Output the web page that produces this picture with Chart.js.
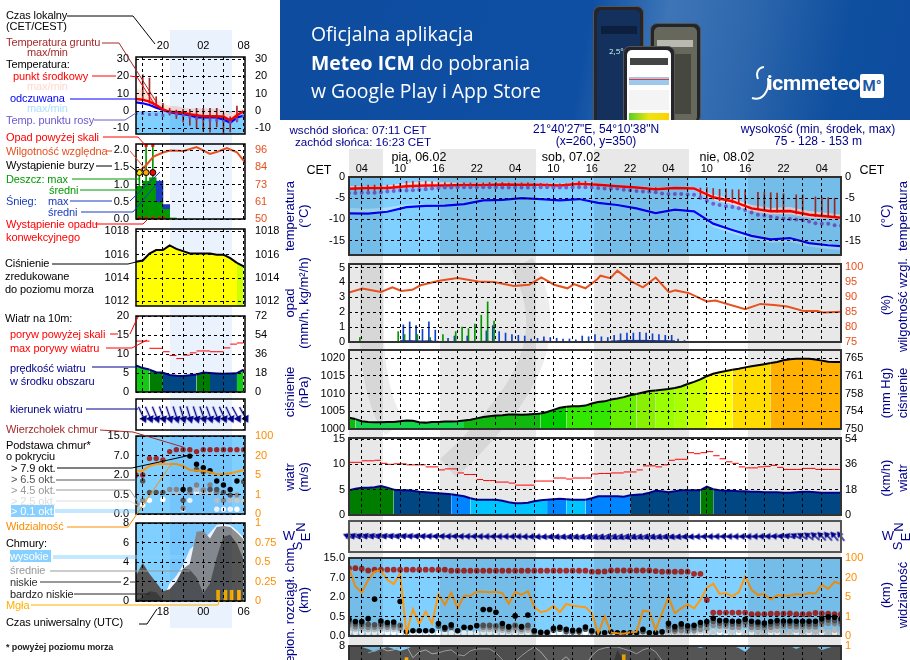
<!DOCTYPE html>
<html lang="pl">
<head>
<meta charset="utf-8">
<title>Meteogram ICM</title>
<script src="https://cdn.jsdelivr.net/npm/chart.js@4"></script>
<style>
html,body{margin:0;padding:0;width:910px;height:660px;overflow:hidden;background:#fff;font-family:"Liberation Sans",Arial,sans-serif;font-size:12px}
canvas{position:absolute;z-index:2}
canvas.tinted{mix-blend-mode:multiply}
.band{position:absolute;z-index:0}
.t{position:absolute;white-space:nowrap;transform:translateY(-50%);z-index:4;font-size:11px;letter-spacing:-.1px}
.c{position:absolute;white-space:nowrap;transform:translate(-50%,-50%);z-index:4}
.r{position:absolute;white-space:nowrap;transform:translate(-50%,-50%) rotate(-90deg);z-index:4;color:#00008b;font-size:13px}
#leaders{position:absolute;left:0;top:0;z-index:3}
#mark{position:absolute;left:0;top:0;z-index:1;mix-blend-mode:multiply}
#banner{position:absolute;left:280px;top:0;width:630px;height:120px;overflow:hidden;z-index:5;color:#fff;
  background:linear-gradient(100deg,#0d4c9f 0%,#0f4fa3 48%,#3d75b7 60%,#2f68ad 72%,#0f4f9f 88%,#0d4c9f 100%)}
#banner .ln{position:absolute;left:31px;font:19.4px "Open Sans",sans-serif;white-space:nowrap}
.phone{position:absolute;background:#23252b;border-radius:7px;border:1px solid #555;box-sizing:border-box;overflow:hidden}
.phone i{position:absolute;display:block}
</style>
</head>
<body>
<div id="stage"></div>
<svg id="mark" width="910" height="660" fill="none" stroke="#ededed" stroke-width="24"><path d="M372 264V340Q375 400 395 428"/><path d="M522 264Q560 330 510 400Q480 440 448 468"/></svg>
<svg id="leaders" width="910" height="660" fill="none" stroke-width="1"></svg>
<div id="banner">
  <div class="ln" style="top:20px">Oficjalna aplikacja</div>
  <div class="ln" style="top:49px"><b>Meteo ICM</b> do pobrania</div>
  <div class="ln" style="top:77px">w Google Play i App Store</div>
  <div class="phone" style="left:313px;top:6px;width:51px;height:125px"><i style="left:3px;top:3px;right:3px;bottom:0;background:#14315e;border-radius:5px"></i><i style="left:7px;top:19px;width:36px;height:8px;background:#0c1f3f"></i><i style="left:15px;top:38px;font:8px 'Open Sans';font-style:normal;color:#cfe">2,5°</i></div>
  <div class="phone" style="left:370px;top:23px;width:51px;height:100px"><i style="left:3px;top:3px;right:3px;bottom:0;background:#67685c;border-radius:5px"></i><i style="left:24px;top:30px;width:16px;height:60px;background:#46473f"></i><i style="left:6px;top:16px;width:36px;height:7px;background:#b9b9b2"></i></div>
  <div class="phone" style="left:343px;top:46px;width:52px;height:80px"><i style="left:3px;top:3px;right:3px;bottom:0;background:#fff;border-radius:5px"></i><i style="left:6px;top:11px;width:38px;height:7px;background:#444"></i><i style="left:5px;top:30px;width:40px;height:8px;background:#9cc9ec"></i><i style="left:5px;top:32px;width:40px;height:1px;background:#e33"></i><i style="left:5px;top:43px;width:40px;height:20px;background:#f4f4f4"></i><i style="left:5px;top:66px;width:40px;height:8px;background:linear-gradient(90deg,#55d025,#eee510,#ffd000)"></i></div>
  <svg style="position:absolute;left:470px;top:64px" width="30" height="40" fill="none" stroke="#fff" stroke-width="2"><path d="M14 3C7 4 6 10 8 15"/><path d="M18 14C20 28 12 37 2 34"/></svg>
  <div style="position:absolute;left:487px;top:71px;font:bold 21px Roboto,sans-serif;letter-spacing:-.2px">icmmeteo</div>
  <div style="position:absolute;left:580px;top:74px;width:24px;height:24px;background:#fff;border-radius:2px;color:#1d57a5;font:bold 15px/24px Roboto,sans-serif;text-align:center">M°</div>
</div>
<script>
// --- Hours on the two time axes ---
const mainHours = Array.from({length: 78}, (_, i) => i);
const leftHours = Array.from({length: 17}, (_, i) => 16 + i);
const mainGridHours = [2,5,8,11,14,17,20,23,26,29,32,35,38,41,44,47,50,53,56,59,62,65,68,71,74,77];
const mainHourLabels = ['04','10','16','22','04','10','16','22','04','10','16','22','04'];
const leftGridHours = [17,20,23,26,29,32];
const leftTopLabels = ['20','02','08'];
const leftBottomLabels = ['18','00','06'];

// --- Main column: temperature ---
const temp3hHours = [0,3,6,9,12,15,18,21,24,27,30,33,36,39,42,45,48,51,54,57,60,63,66,69,72,75,77];
const tempMid = [-2.8,-2.6,-2.6,-2.2,-2,-2,-1.9,-1.9,-1.75,-1.8,-1.8,-2,-1.6,-1.8,-2.2,-2.5,-2.9,-2.6,-2.7,-4.8,-5.7,-7.4,-8.1,-8,-8.9,-9.3,-9.6];
const tempMax = [-2.2,-2.2,-2,-1.4,-1,-1.2,-1.4,-1.4,-1.3,-1.4,-1.4,-1.6,-1.2,-1.5,-1.9,-2.2,-2.5,-2.3,-2.4,-4.2,-5.1,-6.6,-7.3,-7.1,-8,-8.5,-8.9];
const tempMin = [-3,-2.9,-2.9,-2.5,-2.3,-2.3,-2.2,-2.2,-2,-2,-2,-2.2,-1.8,-2,-2.4,-2.7,-3.1,-2.9,-3,-5.4,-6.4,-8.1,-8.8,-8.8,-9.6,-9.8,-10];
const feelMid = [-8.6,-8.65,-8.2,-7.1,-6.8,-6.75,-6.4,-5.5,-5.4,-5,-5.2,-5.5,-5.2,-6.1,-6.6,-7.4,-8.5,-7.7,-8.1,-11,-12.5,-13.9,-14.7,-14.4,-15.6,-16.1,-16.3];
const feelMax = [-7.3,-7.5,-7.2,-6.5,-6.4,-6.4,-6,-5.2,-5,-4.6,-4.8,-5.2,-4.9,-5.8,-6.3,-7.1,-8.1,-7.3,-7.7,-10.6,-12.1,-13.5,-14.4,-14.1,-15.2,-15.7,-15.9];
const feelMin = [-8.8,-8.9,-8.5,-7.4,-7,-7,-6.6,-5.7,-5.6,-5.2,-5.4,-5.7,-5.4,-6.3,-6.8,-7.6,-8.7,-8,-8.4,-11.8,-13.3,-14.7,-15.5,-15.3,-16.4,-17,-17.2];
const dewPoint = [-3.8,-3.8,-3.7,-3.7,-3.7,-3.6,-3.4,-3.3,-3.2,-3.2,-3.1,-3,-2.9,-2.7,-2.6,-2.5,-2.5,-2.4,-2.4,-2.4,-2.4,-2.4,-2.4,-2.4,-2.5,-2.5,-2.5,-2.5,-2.5,-2.4,-2.4,-2.4,-2.5,-2.5,-2.5,-2.4,-2.4,-2.4,-2.5,-2.6,-2.7,-2.7,-2.7,-3,-3.1,-3.3,-3.4,-3.5,-3.6,-3.9,-4,-4,-4,-4.1,-4.2,-4.9,-5.6,-6.3,-6.6,-6.9,-7.1,-7.4,-7.8,-8.4,-8.9,-9.1,-9.4,-9.7,-9.8,-9.9,-10,-10.2,-10.5,-10.9,-11,-11,-11.4,-11.5];
const groundMax = [null,-2,-2,-1.9,-1.9,-1.9,-1.9,-1.8,-1.5,-1,-1,-1,-1,-1.1,-1.2,-1.3,-1.4,-1.4,-1.4,-1.4,-1.4,-1.4,-1.3,-1.3,-1.3,-1.4,-1.4,-1.4,-1.4,-1.5,-1.5,-1.6,-1.6,-1.6,-1.6,-1.2,-1,-1,-1.2,null,null,null,null,null,null,null,null,null,-2.5,null,null,null,null,null,null,-2.6,-2.5,-2.7,-2.9,-2.8,-3,-3,-3,null,-3.6,-3.6,-3.7,-3.8,-3.9,null,-4.2,-4.2,null,-4.7,-4.8,-4.9,-5,null];
const groundMin = [null,-3.3,-3.3,-3.2,-3.2,-3.1,-3,-3,-2.8,-2.7,-2.6,-2.6,-2.6,-2.6,-2.5,-2.5,-2.5,-2.4,-2.4,-2.4,-2.4,-2.4,-2.4,-2.4,-2.4,-2.4,-2.4,-2.4,-2.4,-2.5,-2.5,-2.5,-2.5,-2.5,-2.5,-2.3,-2.2,-2.3,-2.4,null,null,null,null,null,null,null,null,null,-3.4,null,null,null,null,null,null,-5,-5.2,-5.2,-5.6,-5.8,-6.1,-6.3,-6.5,null,-7.7,-8,-8.2,-8.3,-8.4,null,-8.7,-8.9,null,-9.3,-9.4,-9.4,-9.6,null];

// --- Main column: precipitation and humidity ---
const rainHourCentres = mainHours.map(h => h + 0.5);
const rainMax = [null,.3,null,.03,.03,null,null,.7,.5,null,.5,null,.3,null,.5,null,.7,1,.9,1.2,1.8,2.7,1.4,null];
const snowMax = [null,null,null,null,null,null,null,null,1.15,1.35,1.1,.85,1.35,.8,null,.25,.4,null,.4,null,null,.75,1.1,.7,.6,.5,.45,.4,.2,.25,.35,.3,.25,.2,.2,.15,.4,.35,.5,.35,.3,.45,.55,.6,.6,.65,.6,.55,.5,.45,.45,.2,.1,.05,.03,.03,.03,.03,.03,null,null,.03,null,null,null,.03];
const snowMean = [null,null,null,null,null,null,null,null,.1,.1,.09,.08,.09,.06,.03,.03,.03,.03,.03,.03,.03,.03,.03,.03,.02,.02,.02,.03,.02,.04,.06,.04,.03,.02,.03,.02,.02,.03,.03,.04,.05,.08,.1,.12,.12,.12,.12,.11,.1,.1,.09,.02];
const rainMean = [null,null,null,null,null,null,null,.02,.02,null,.02,null,.02,null,.02,.03,.03,.04,.04,.05,.05,.06,.04];
const humidityHours = [0,2.1,5,6.8,8.2,9.9,11.2,14.1,17,20.2,22.7,25.8,28.2,30.1,32.1,34.2,35.2,37,38.9,39.35,40.9,42,44.05,46,48,50.05,51.1,53.2,56,57.35,62,64.4,66.5,68.6,71.2,73.3,74.3,77];
const humidity = [91.5,92.8,91.7,93.2,92,92.4,93.9,95.4,96.3,95.2,95,93.7,94.1,96.5,94.1,92.9,94.3,92.9,96,97.1,96.3,98.8,95.4,93.2,96.5,91.6,92.2,91.3,88.5,88.8,85.9,87.7,87.3,86.8,85.3,85.3,84.8,85.1];

// --- Main column: pressure, wind ---
const pressure = [1003.2,1002.8,1002.2,1002,1001.9,1001.9,1002,1002,1002.2,1002.4,1002.3,1001.9,1001.8,1002,1002,1002.1,1002.1,1002.2,1002.4,1002.6,1003,1003.4,1003.6,1003.8,1003.9,1004.1,1004.1,1004,1004.1,1004.2,1004.4,1004.8,1005.4,1006,1006.3,1006.4,1006.4,1006.6,1007.2,1007.6,1007.8,1008.3,1008.6,1009,1009.5,1009.9,1010.3,1010.7,1010.9,1011.1,1011.3,1011.6,1012,1012.7,1013.3,1014,1014.9,1015.6,1016,1016.4,1016.7,1017,1017.4,1017.7,1018,1018.3,1018.6,1018.9,1019.4,1019.7,1019.8,1019.8,1019.8,1019.6,1019.3,1019,1018.9,1018.9];
const windSpeed = [4.9,5.2,5.4,5.4,5.5,5.7,5.4,5,4.9,4.9,4.8,4.6,4.5,4.4,4.3,4.2,4.1,3.9,3.7,3.3,3,3,3,3,2.8,2.5,2.3,2.3,2.4,2.7,2.9,3,3.1,3.2,3.1,3,3,3,3.3,3.7,3.7,3.7,3.7,3.6,3.9,4,4.1,4.4,4.8,4.7,4.5,4.7,4.9,4.9,4.9,4.9,5.6,5.1,4.9,4.8,4.8,4.7,4.7,4.6,4.6,4.5,4.5,4.5,4.4,4.4,4.5,4.6,4.6,4.5,4.4,4.4,4.4,4.4];
const windGust = [10.4,10.4,10.7,10.7,10.8,10.2,10,10.1,10.1,9.9,9.9,9.9,9.5,9.5,8.9,9.1,9.1,8.3,8,8,7,6.8,6.8,6.5,6.5,6.3,5.9,5.9,5.9,6.7,6.7,6.7,7.3,7.3,7.1,7.3,7.3,7.3,8.1,8.2,8.2,8.3,8.3,8.5,8.5,8.9,9.7,9.7,9.5,9.9,10.8,11,11,12.3,12.1,12.3,12.5,11.7,11.1,10.5,10.2,9.5,9.3,9.3,9.5,9.6,9.8,9.4,9,9,9,9.2,9.2,9,9,9,9,9];
const windDirection = [112,112,110,110,108,108,106,106,105,104,103,102,100,100,98,98,96,96,95,94,92,92,90,90,90,90,88,88,86,84,82,80,78,76,75,74,72,72,70,70,68,68,68,68,70,70,70,70,72,72,74,76,78,80,82,84,86,88,90,90,90,90,90,90,90,92,94,96,100,108,116,122,128,132,135,138,140,142];

// --- Main column: cloud base, cloud top and visibility, in axis steps ---
const cloudTop = [3.48,3.48,3.45,3.36,3.4,3.4,3.4,3.4,3.4,3.4,3.4,3.4,3.4,3.4,3.4,3.4,3.35,3.35,3.35,3.35,3.35,3.35,3.35,3.35,3.35,3.35,3.35,3.35,3.35,3.35,3.35,3.35,3.35,3.35,3.35,3.35,3.35,3.35,3.3,3.3,3.31,3.36,3.36,3.36,3.36,3.36,3.36,3.36,3.33,3.3,3.3,3.3,3.3,3.3,3.19,3.19,1.85,1.2,1.2,1.2,1.2,1.2,1.2,1.12,1.12,1.12,1.14,1.14,1.14,1.16,1.12,1.12,1.12,1.18,1.16,1.14,1.12,1.12];
const base79 = [.86,.74,.74,.89,1.89,.77,.69,.72,1.77,.22,.27,.27,.27,.27,.64,.43,.57,.27,.45,.43,.53,1.36,1.36,1.22,.64,.48,1.03,.48,1.08,.27,.19,.19,.4,.45,.34,.29,.29,.46,.27,.17,.17,.22,.17,.17,.17,.17,.34,.17,.17,.21,.65,.48,.62,.52,.55,.69,.74,.91,.79,.79,.76,.76,.86,.76,.72,.67,.74,.79,.77,.77,.76,.76,.76,.76,.88,.98,.96,.88];
const base65 = [.72,.62,.62,.6,.58,.62,.58,.58,.55,null,null,null,null,null,.5,.35,.45,null,null,null,null,.55,.55,.52,.5,.45,.55,.45,.55,.25,.15,.15,.3,.35,.22,.2,.2,.35,.2,null,null,null,null,null,null,null,.22,null,null,null,.5,.35,.48,.4,.42,.55,.6,.75,.65,.65,.62,.62,.72,.62,.6,.55,.6,.65,.65,.65,.62,.62,.62,.62,.75,.82,.8,.75];
const base45 = [.55,.48,.48,.45,.45,.48,.45,.45,.4,null,null,null,null,null,null,null,null,null,null,null,null,.45,.45,.42,.4,.35,.42,.35,.42,.18,null,null,null,null,null,null,null,null,null,null,null,null,null,null,null,null,null,null,null,null,.3,.25,.3,.25,.28,.35,.4,.55,.5,.5,.45,.45,.55,.45,.45,.42,.45,.5,.5,.5,.48,.48,.48,.48,.6,.65,.65,.6];
const base25 = [.4,.36,.36,.33,.33,.36,.33,.33,.3,null,null,null,null,null,null,null,null,null,null,null,null,.33,.33,.3,.3,.25,.3,.25,.3,.12,null,null,null,null,null,null,null,null,null,null,null,null,null,null,null,null,null,null,null,null,.2,.2,.2,.2,.2,.25,.22,.22,.3,.25,.2,.3,.2,.32,.2,.18,.3,.3,.18,.2,.3,.2,.3,.2,.3,.2,.3,.2];
const base01 = [.2,.18,.18,.18,.18,.18,.18,.18,.16,.14,.14,.14,.14,.14,.14,.14,.14,.14,.14,.14,.14,.18,.18,.18,.16,.14,.16,.14,.16,.1,.1,.1,.12,.14,.12,.12,.12,.14,.12,.1,.1,.1,.1,.1,.1,.1,.12,.1,.1,.1,.14,.12,.14,.12,.12,.14,.16,.2,.18,.18,.16,.16,.18,.16,.14,.14,.16,.14,.14,.14,.14,.14,.16,.14,.16,.18,.16,.14];
const visibility = [3.48,2.54,2.23,2.88,3.31,3.36,2.88,2.66,3.19,.14,1.37,.62,1.25,.65,2.15,1.6,2.23,1.42,2.06,2.06,2.27,2.27,2.25,2.27,2.2,1.65,2.27,2.11,2.3,1.48,1.22,1.3,1.55,1.22,1.65,1.55,1.51,1.48,1.17,.14,1,.17,.14,.12,.19,.22,1.3,1.25,.31,1.17,1.99,1.17,1.42,1.63,1.42,1.85,2.47,2.68,2.16,2.2,2.03,2.25,3.05,2.37,2.11,2.15,1.87,2.09,2.08,2.06,2.15,2.11,2.2,2.18,2.63,2.42,2.78,2.66];

// --- Main column: clouds, only the top of the panel fits in the window ---
const cloudLowMain = [8,8,7.9,7.7,7.4,7.7,7.9,7.7,7.5,7.7,8,8,8,8,8,8,8,8,8,8,8,8,8,8,8,8,8,8,8,8,8,8,8,8,8,8,8,8,8,8,8,8,8,8,8,8,8,8,8,8,8,8,8,8,8,7.8,8,8,8,8,8,7.8,7.4,8,8,8,8,8,8,8,7.7,8,8,8,7.6,7.8,8,8];
const cloudHighLine = [null,null,null,7.3,7.5,7.8,7.5,7.6,7.9,8,6.8,7.4,7.6,7.2,7.3,7.5,7.6,7.1,7,7.5,7.7,7.7,7.7,7.3,6.6,6,6.4,7,7.5,7.9,7.4,6.6,5.8,6.4,6.9,6.2,5.6,6,7,7.6,7.8,7.9,7.9,7.7,7.5,7.2,7.6,7.8,7.4,6.5,5.5];
const cloudVeryLowMain = [0,0,0,0,0,0,0,0,0,0,0,0,0,0,0,0,0,0,0,0,0,0,0,0,0,0,0,0,0,0,0,0,0,0,0,0,0,0,0,4,6.5,5.5,7.6,6.5,5,3,4,6,6.8,6,4,0];
const fogHours = [9,43];
const fogMain = [6.8,7.1];

// --- Left column ---
const leftTemp = [7,6.5,5.5,3.5,1,-.4,-.6,-1,-1.8,-2.4,-3,-3,-2.9,-3.3,-5.3,-2.4,0];
const leftTempMax = [13,12,10,7.3,4.4,2.9,2.9,2,1.5,1.5,1.5,1.5,1.5,.6,-1,.4,1.2];
const leftFeel = [5,4.5,3.5,2,.6,-.6,-1.4,-1.8,-2.4,-3.7,-3.7,-3.7,-3.7,-4.9,-6.7,-3.7,-2.7];
const leftDew = [-1.4,-1.4,-2,-2,-2.5,-1,-1.8,-2.4,-3.3,-4.3,-4.7,-5,-5.3,-5.6,-6.5,-4.8,-2.9];
const leftGroundHours = [17,18,19,20,21,22,23,24,25,26,27,28,29,30,31];
const leftGroundMax = [21,19,8.3,4.5,1.6,.6,1,1,1.6,1.6,1.6,1.6,-1.4,-3.3,2.9];
const leftGroundMin = [6.4,4.5,2.5,.6,-2.3,-4.3,-6.2,-8.2,-9.7,-11.7,-12.2,-9.1,-13,-12,-6.2];
const leftRainMean = [.95,1.1,1.2,.5,.3,.03];
const leftRainHours = [16.5,17.5,18.5,19.5,20.5,21.5];
const leftSnowLow = [null,null,null,.5,.3,null];
const leftSnowHigh = [null,null,null,1.1,.42,null];
const leftRainMaxHours = [16.5,17.5,18.5];
const leftRainMax = [1.45,2.14,2.14];
const leftOverScaleHours = [17.5,18.5];
const leftOverScale = [2.14,2.14];
const stormHours = [16.5,17.5,18.5];
const stormLevel = [1.35,1.35,1.35];
const convectiveHours = [16.5,17.5,18.5,19.5,20.1];
const convectiveLevel = [.02,.02,.02,.02,.02];
const leftHumidityHours = [16.4,17.5,18.6,20.1,21.1,23.1,25,27,28.2,29.5,31,32.2];
const leftHumidity = [81.4,85.9,91.7,94.6,95.8,95.5,98,93.5,95.1,97.4,94.6,87.8];
const leftPressure = [1015.4,1015.5,1016.1,1016.4,1016.4,1016.8,1016.5,1016.3,1016.1,1016.1,1016.1,1016.1,1016,1016,1015.7,1015.3,1015];
const leftWind = [7,6.3,5.9,5.2,5.1,4.5,4.3,4.2,4.4,4.6,5.1,5,4.9,4.8,4.9,4.95,5.9];
const leftGustHours = [16.5,17.5,18.5,19.5,20.5,21.5,22.5,23.5,24.5,25.5,26.5,27.5,28.5,29.5,30.5,31.5];
const leftGust = [13.4,13.4,11.5,11.5,10.6,9.6,8.8,9.7,10.3,10.8,10.8,10.6,10.6,11.6,12.6,12.9];
const leftDirHours = [16.9,17.9,18.9,19.9,20.9,21.9,22.9,23.9,24.9,25.9,26.9,27.9,28.9,29.9,30.9,32];
const leftDirection = [335,336,338,340,341,342,343,343,342,341,340,338,336,335,332,331];
const leftCloudTop = [2,2,2.85,2.85,2.77,3.2,3.3,3.3,3.3,3.2,3.3,3.3,3.3,3.3,3.3,3.3,3.3];
const leftBase79 = [null,null,null,null,null,null,null,1.26,2.97,2.55,2.38,2.22,1.69,1.49,1.26,1.69,null];
const leftBase65 = [null,1.69,1.11,1.11,1.11,null,null,.7,1.26,2.29,2.17,1.26,1.26,1.11,.97,null,1.66];
const leftBase45 = [.46,.7,null,null,null,1.26,1.26,.3,1.11,1.49,1.23,1.49,1.11,.7,null,.97,null];
const leftBase25 = [.41,null,null,null,null,1.23,1.11,null,1.11,1.26,1.11,1.11,.7,null,.7,.7,.7];
const leftBase01 = [null,.46,.7,null,.75,null,null,.24,.7,1.11,1.11,1.11,.24,.24,.24,.24,null];
const leftVisibility = [2.22,2.22,2.46,2.56,2.56,2.56,2.56,2.46,2.26,2.22,2.22,2.14,2.04,2.05,2.09,2.17,2.26];
const leftCloudHigh = [0,0,0,0,.1,1.8,2.6,3.7,5.3,5.9,6.3,7,7.8,7.9,7.8,7.2,6.5];
const leftCloudMid = [0,0,0,0,0,.5,1.5,3.3,3.8,7.1,7.2,6.4,7.6,7.7,7.6,7,6.3];
const leftCloudLow = [2.6,3.9,2.8,1.9,1,1.2,2,3.3,3.2,2.4,.8,1.8,4.5,6.6,6.8,5.9,4.2];
const leftCloudVeryLow = [.1,.4,1,.9,.1,0,0,0,0,0,0,0,0,0,0,0,0];
const leftFogHours = [28.2,29.3,30.2,31.3];
const leftFog = [1.1,1.1,1.1,1.1];

// --- Axis tick positions and labels ---
const mainTempTicks = [-15,-10,-5,0];
const rainTicks = [0,1,2,3,4,5];
const humidityTicks = [75,80,85,90,95,100];
const pressureTicks = [1000,1005,1010,1015,1020];
const mmHgLabels = ['750','754','758','761','765'];
const windTicks = [0,5,10,15];
const windKmhLabels = ['0','18','36','54'];
const baseSteps = [0,1,2,3,4];
const baseLabels = ['0.0','0.5','2.0','7.0','15.0'];
const visLabels = ['0','1','5','20','100'];
const cloudTicks = [0,2,4,6,8];
const fogLabels = ['0','0.25','0.5','0.75','1'];
const leftTempTicks = [-10,0,10,20,30];
const leftRainTicks = [0,.5,1,1.5,2];
const leftRainLabels = ['0.0','0.5','1.0','1.5','2.0'];
const leftRhLabels = ['50','61','73','84','96'];
const leftPressureTicks = [1012,1014,1016,1018];
const leftWindTicks = [0,5,10,15,20];
const leftWindKmh = ['0','18','36','54','72'];

// --- Colours ---
const SKY = '#80d0ff', NAVY = '#00008b', RH = '#e8501e', VIS = '#ff9a10', BLACK = '#000';
const bandColor = (v, steps, last) => { for (const [lim, c] of steps) if (v < lim) return c; return last; };
const PRESSURE_STEPS = [[1002.6,'#14d44a'],[1004.5,'#10b810'],[1006.4,'#00cc00'],[1008.5,'#33e800'],[1010,'#66f000'],[1011,'#88f000'],[1011.7,'#99ff00'],[1013,'#aaff00'],[1015.1,'#ccff00'],[1016.85,'#ffff00'],[1018.8,'#ffdc00']];
const WIND_STEPS = [[3.05,'#00c4ff'],[4,'#0084ff'],[5,'#004783'],[5.8,'#007c00']];

Chart.defaults.animation = false;
Chart.defaults.events = [];
Chart.defaults.font.family = '"Liberation Sans", Arial, sans-serif';
Chart.defaults.font.size = 11;
Chart.defaults.color = BLACK;
Chart.defaults.plugins.legend.display = false;
Chart.defaults.plugins.tooltip.enabled = false;

Chart.register({
  id: 'panel',
  beforeDatasetsDraw(c, a, o) {
    if (!o.bg) return;
    const {left, right, top, bottom} = c.chartArea;
    const y0 = o.bgBelow !== undefined ? c.scales.y.getPixelForValue(o.bgBelow) : top;
    c.ctx.fillStyle = o.bg;
    c.ctx.fillRect(left, y0, right - left, bottom - y0);
  },
  afterDraw(c, a, o) {
    const {left, right, top, bottom} = c.chartArea;
    c.ctx.strokeStyle = o.frame || '#333';
    c.ctx.lineWidth = o.frameWidth || 2;
    c.ctx.strokeRect(left, top, right - left, bottom - top);
  }
});

// --- Dataset helpers ---
const pts = (xs, ys) => ys.map((y, i) => ({x: xs[i], y}));
const line = (xs, ys, color, width, extra) => Object.assign({type: 'line', data: pts(xs, ys), borderColor: color, borderWidth: width, pointRadius: 0, fill: false, spanGaps: false}, extra);
const dots = (xs, ys, color, radius, extra) => Object.assign({type: 'line', data: pts(xs, ys), showLine: false, pointRadius: radius, pointBackgroundColor: color, pointBorderWidth: 0, pointBorderColor: color}, extra);
const area = (xs, ys, color, fill) => ({type: 'line', data: pts(xs, ys), borderWidth: 0, pointRadius: 0, backgroundColor: color, fill: fill});
const bars = (xs, ys, color, thick, extra) => Object.assign({type: 'bar', data: pts(xs, ys), backgroundColor: color, barThickness: thick, grouped: false, borderWidth: 0}, extra);
const floating = (xs, lo, hi, color, thick) => bars(xs, lo.map((v, i) => v === null ? null : [v, hi[i]]), color, thick);
const dashes = (xs, ys, color, radius) => ({type: 'line', data: pts(xs, ys), showLine: false, pointStyle: 'line', pointRadius: radius, pointBorderColor: color, pointBorderWidth: 1});
const filledBand = (xs, ys, steps, last, lineColor, width) => ({type: 'line', data: pts(xs, ys), borderColor: lineColor, borderWidth: width, pointRadius: 0, fill: 'origin',
  backgroundColor: bandColor(ys[0], steps, last), segment: {backgroundColor: ctx => bandColor(ctx.p1.parsed.y, steps, last)}});

function arrowSprite(len, head) {
  const s = len + head + 4, cv = document.createElement('canvas');
  cv.width = s; cv.height = s;
  const g = cv.getContext('2d'), m = s / 2;
  g.strokeStyle = g.fillStyle = NAVY;
  g.lineWidth = 1.4;
  g.beginPath(); g.moveTo(m, m - len / 2); g.lineTo(m, m + len / 2 - head / 2); g.stroke();
  g.beginPath(); g.moveTo(m - head * .7, m + len / 2 - head); g.lineTo(m + head * .7, m + len / 2 - head); g.lineTo(m, m + len / 2 + 1); g.closePath(); g.fill();
  return cv;
}
const arrows = (xs, dirs, sprite) => ({type: 'line', data: xs.map((x, i) => ({x, y: 0})), showLine: false, pointStyle: sprite, pointRadius: 6, pointRotation: dirs, clip: false});

// --- Axis helpers ---
function yAxis(o) {
  return {
    type: 'linear', position: o.pos, min: o.min, max: o.max, bounds: 'data',
    grid: {display: true, drawOnChartArea: !!o.grid, drawTicks: false, color: BLACK, lineWidth: 1, z: 1},
    border: {display: false, dash: [3, 3]},
    afterBuildTicks: s => { s.ticks = (o.ticks || []).map(value => ({value})); },
    afterFit: s => { s.width = o.width; },
    ticks: {color: o.color || BLACK, padding: o.pad, autoSkip: false, callback: (v, i) => o.labels ? o.labels[i] : String(v)}
  };
}
function xAxis(o) {
  const first = o.labelFrom || 0;
  return {
    type: 'linear', position: o.pos || 'bottom', min: o.min, max: o.max, offset: false, bounds: 'data',
    grid: {display: true, offset: false, drawTicks: false, color: BLACK, lineWidth: 1, z: 1},
    border: {display: false, dash: [3, 3]},
    afterBuildTicks: s => { s.ticks = o.ticks.map(value => ({value})); },
    afterFit: s => { s.height = o.height || 0; },
    ticks: {display: !!o.labels, padding: o.pad || 0, autoSkip: false, maxRotation: 0, minRotation: 0, color: BLACK,
      callback: (v, i) => (o.labels && (i - first) % 2 === 0) ? o.labels[(i - first) / 2] : ''}
  };
}

function panel(rect, xOpt, yOpt, y2Opt, datasets, panelOpts) {
  // room above and below the plot must hold half a tick label plus its padding
  const top = rect.top === undefined ? 20 : rect.top, bottom = rect.bottom === undefined ? 20 : rect.bottom;
  const L = rect.left, R = rect.right;
  const cv = document.createElement('canvas');
  cv.style.left = (rect.x - L) + 'px';
  cv.style.top = (rect.y - top) + 'px';
  cv.width = rect.w + L + R;
  cv.height = rect.h + top + bottom;
  // sky panels take the day/night band through them, the others cover it
  if (panelOpts && panelOpts.bg) cv.className = 'tinted';
  document.getElementById('stage').appendChild(cv);
  const hasTop = xOpt.pos === 'top', hasBottom = xOpt.labels && xOpt.pos !== 'top';
  new Chart(cv, {
    type: 'line',
    data: {datasets},
    options: {
      responsive: false, maintainAspectRatio: false, devicePixelRatio: 1,
      layout: {padding: {left: 0, right: 0, top: hasTop ? 0 : top, bottom: hasBottom ? 0 : bottom}},
      scales: {
        x: xAxis(Object.assign({height: hasTop ? top : hasBottom ? bottom : 0}, xOpt)),
        y: yAxis(Object.assign({pos: 'left', width: L, pad: rect.padL}, yOpt)),
        y2: yAxis(Object.assign({pos: 'right', width: R, pad: rect.padR}, y2Opt))
      },
      plugins: {panel: panelOpts || {}}
    }
  });
}

// --- Main column ---
const M = {x: 349, w: 492, left: 50, right: 50, padL: 4, padR: 4};
const mx = {min: 0, max: 77, ticks: mainGridHours};
const mainFrame = {frame: '#333', frameWidth: 2};

panel(Object.assign({y: 177, h: 78, top: 24}, M),
  Object.assign({}, mx, {pos: 'top', labels: mainHourLabels, pad: 1}),
  {min: -18.4, max: 0, ticks: mainTempTicks, grid: true},
  {min: -18.4, max: 0, ticks: mainTempTicks, labels: ['-15','-10','-5','0']},
  [
    dots(mainHours, dewPoint, '#7060d0', 2),
    line(temp3hHours, tempMid, '#ff0000', 2.5),
    floating(mainHours, groundMin, groundMax, '#a52a2a', 1),
    line(temp3hHours, feelMid, '#0000ff', 2.2),
    area(temp3hHours, tempMax, '#ffd6d6', '+1'),
    area(temp3hHours, tempMin, 'rgba(0,0,0,0)', false),
    area(temp3hHours, feelMax, '#a8e2ff', '+1'),
    area(temp3hHours, feelMin, 'rgba(0,0,0,0)', false)
  ], Object.assign({bg: SKY}, mainFrame));

panel(Object.assign({y: 264, h: 78}, M), mx,
  {min: 0, max: 5.24, ticks: rainTicks, grid: true},
  {min: 75, max: 101, ticks: humidityTicks, color: RH},
  [
    line(humidityHours, humidity, RH, 2, {yAxisID: 'y2'}),
    bars(rainHourCentres, rainMean, '#009900', 6),
    bars(rainHourCentres, snowMean, '#0a2fc0', 6),
    bars(rainHourCentres.map(h => h + .2), rainMax, '#009900', 1),
    bars(rainHourCentres, snowMax, '#1040d0', 1)
  ], mainFrame);

panel(Object.assign({y: 350, h: 79}, M), mx,
  {min: 1000, max: 1022.3, ticks: pressureTicks, grid: true},
  {min: 1000, max: 1022.3, ticks: pressureTicks, labels: mmHgLabels},
  [filledBand(mainHours, pressure, PRESSURE_STEPS, '#ffb000', BLACK, 2)], mainFrame);

panel(Object.assign({y: 438, h: 77}, M), mx,
  {min: 0, max: 15.2, ticks: windTicks, grid: true},
  {min: 0, max: 15.2, ticks: windTicks, labels: windKmhLabels},
  [
    dashes(rainHourCentres, windGust, '#ff0000', 3.2),
    filledBand(mainHours, windSpeed, WIND_STEPS, '#14c814', '#00008b', 2)
  ], mainFrame);

panel(Object.assign({y: 521, h: 31}, M), mx, {min: -1, max: 1}, {min: -1, max: 1},
  [arrows(mainHours, windDirection, arrowSprite(11, 5))], {frame: '#555', frameWidth: 2});

panel(Object.assign({y: 558, h: 78}, M), mx,
  {min: 0, max: 4, ticks: baseSteps, labels: baseLabels, grid: true},
  {min: 0, max: 4, ticks: baseSteps, labels: visLabels, color: '#ff8c00'},
  [
    line(mainHours, visibility, VIS, 2),
    dots(mainHours, base79, BLACK, 2.8),
    dots(mainHours, cloudTop, '#a52a2a', 2.9),
    dots(mainHours, base65, '#555', 2.8),
    dots(mainHours, base45, '#8c8c8c', 2.8),
    dots(mainHours, base25, '#c8c8c8', 2.8),
    dots(mainHours, base01, '#fff', 2.8)
  ], Object.assign({bg: SKY}, mainFrame));

panel(Object.assign({y: 646, h: 78}, M), mx,
  {min: 0, max: 8, ticks: cloudTicks, grid: true},
  {min: 0, max: 8, ticks: cloudTicks, labels: fogLabels, color: '#ff8c00'},
  [
    bars(fogHours, fogMain, '#ffb000', 3),
    line(mainHours, cloudHighLine, '#a8a8a8', 1),
    area(mainHours, cloudVeryLowMain, '#3c3c3c', 'origin'),
    area(mainHours, cloudLowMain, '#555', 'origin')
  ], Object.assign({bg: SKY}, mainFrame));

// --- Left column ---
const Lc = {x: 136, w: 109, left: 50, right: 50, padL: 7, padR: 10};
const lx = {min: 16, max: 32.2, ticks: leftGridHours};
const leftFrame = {frame: BLACK, frameWidth: 1.5};

panel(Object.assign({y: 57, h: 77, top: 20}, Lc),
  Object.assign({}, lx, {pos: 'top', labels: leftTopLabels, labelFrom: 1, pad: 4}),
  {min: -13.2, max: 31.2, ticks: leftTempTicks, grid: true},
  {min: -13.2, max: 31.2, ticks: leftTempTicks},
  [
    dots(leftHours, leftDew, '#6a5acd', 2, {pointStyle: 'rect'}),
    line(leftHours, leftTemp, '#ff0000', 2.5),
    floating(leftGroundHours, leftGroundMin, leftGroundMax, '#a52a2a', 1),
    line(leftHours, leftFeel, '#0000ff', 2.2),
    area(leftHours, leftTempMax, '#ffe0d8', 1)
  ], Object.assign({bg: SKY, bgBelow: 0}, leftFrame));

panel(Object.assign({y: 144, h: 75}, Lc), lx,
  {min: 0, max: 2.18, ticks: leftRainTicks, labels: leftRainLabels, grid: true},
  {min: 50, max: 100.1, ticks: [50,61.5,73,84.5,96], labels: leftRhLabels, color: RH},
  [
    dots(leftOverScaleHours, leftOverScale, '#ff0000', 2.2, {pointStyle: 'rect'}),
    dots(stormHours.slice(0, 1), stormLevel.slice(0, 1), '#ffe000', 3, {pointBorderWidth: 1, pointBorderColor: BLACK}),
    dots(stormHours.slice(1, 2), stormLevel.slice(1, 2), '#ffa500', 3, {pointBorderWidth: 1, pointBorderColor: BLACK}),
    dots(stormHours.slice(2), stormLevel.slice(2), '#ff0000', 3, {pointBorderWidth: 1, pointBorderColor: BLACK}),
    dots(convectiveHours, convectiveLevel, '#ff0000', 1.8),
    line(leftHumidityHours, leftHumidity, RH, 2, {yAxisID: 'y2'}),
    bars(leftRainMaxHours, leftRainMax, '#009900', 1),
    floating(leftRainHours, leftSnowLow, leftSnowHigh, '#1a3ac0', 6.75),
    bars(leftRainHours, leftRainMean, '#009900', 6.75)
  ], leftFrame);

panel(Object.assign({y: 229, h: 77}, Lc), lx,
  {min: 1011.6, max: 1018.2, ticks: leftPressureTicks, grid: true},
  {min: 1011.6, max: 1018.2, ticks: leftPressureTicks},
  [filledBand(leftHours, leftPressure, PRESSURE_STEPS, '#ffb000', BLACK, 2)], leftFrame);

panel(Object.assign({y: 316, h: 76}, Lc), lx,
  {min: 0, max: 20, ticks: leftWindTicks, grid: true},
  {min: 0, max: 20, ticks: leftWindTicks, labels: leftWindKmh},
  [
    dashes(leftGustHours, leftGust, '#ff0000', 3.4),
    filledBand(leftHours, leftWind, WIND_STEPS, '#14c814', '#00008b', 2)
  ], leftFrame);

panel(Object.assign({y: 399, h: 31}, Lc), lx, {min: -1, max: 1}, {min: -1, max: 1},
  [arrows(leftDirHours, leftDirection, arrowSprite(17, 6))], leftFrame);

panel(Object.assign({y: 436, h: 78}, Lc), lx,
  {min: 0, max: 4, ticks: baseSteps, labels: baseLabels, grid: true},
  {min: 0, max: 4, ticks: baseSteps, labels: visLabels, color: '#ff8c00'},
  [
    line(leftHours, leftVisibility, VIS, 2),
    dots(leftHours, leftBase79, BLACK, 2.7),
    dots(leftHours, leftCloudTop, '#a52a2a', 2.7),
    dots(leftHours, leftBase65, '#555', 2.7),
    dots(leftHours, leftBase45, '#8c8c8c', 2.7),
    dots(leftHours, leftBase25, '#c8c8c8', 2.7),
    dots(leftHours, leftBase01, '#fff', 2.7)
  ], Object.assign({bg: SKY}, leftFrame));

panel(Object.assign({y: 523, h: 78, bottom: 20}, Lc),
  Object.assign({}, lx, {labels: leftBottomLabels, labelFrom: 1, pad: 4}),
  {min: 0, max: 8, ticks: cloudTicks, grid: true},
  {min: 0, max: 8, ticks: cloudTicks, labels: fogLabels, color: '#ff8c00'},
  [
    bars(leftFogHours, leftFog, '#ffb000', 3),
    area(leftHours, leftCloudVeryLow, '#3c3c3c', 'origin'),
    area(leftHours, leftCloudLow, '#555', 'origin'),
    area(leftHours, leftCloudMid, '#8f8f8f', 'origin'),
    area(leftHours, leftCloudHigh, '#fff', 'origin')
  ], Object.assign({bg: SKY}, leftFrame));

// --- Background day/night bands ---
const stage = document.getElementById('stage');
[[349,383],[440,536],[594,689],[748,841]].forEach(([a, b]) => {
  stage.insertAdjacentHTML('afterbegin', `<div class="band" style="left:${a}px;width:${b-a}px;top:149px;height:511px;background:#e8e8e8"></div>`);
});
stage.insertAdjacentHTML('afterbegin', '<div class="band" style="left:170px;width:62px;top:30px;height:598px;background:#eaf2fd"></div>');

// --- Labels of the left column ---
const legendTexts = [
  ['Czas lokalny',6,15,BLACK],['(CET/CEST)',6,26,BLACK],
  ['Temperatura gruntu',6,42,'#a52a2a'],['max/min',27,52,'#a52a2a'],
  ['Temperatura:',6,64,BLACK],['punkt środkowy',13,76,'#ff0000'],['max/min',27,86,'#ffd8d0'],
  ['odczuwana',10,98,'#0000ff'],['max/min',27,108,'#aee0ff'],['Temp. punktu rosy',6,120,'#6a5acd'],
  ['Opad powyżej skali',6,137,'#ff0000'],['Wilgotność względna',6,151,RH],['Wystąpienie burzy',6,165,BLACK],
  ['Deszcz: max',6,179,'#009900'],['średni',49,190,'#009900'],['Śnieg:',6,201,'#1a3ac0'],['max',48,201,'#1a3ac0'],['średni',48,212,'#1a3ac0'],
  ['Wystąpienie opadu',6,224,'#ff0000'],['konwekcyjnego',6,237,'#ff0000'],
  ['Ciśnienie',5,263,BLACK],['zredukowane',5,276,BLACK],['do poziomu morza',5,289,BLACK],
  ['Wiatr na 10m:',5,318,BLACK],['poryw powyżej skali',10,334,'#ff0000'],['max porywy wiatru',10,348,'#ff0000'],
  ['prędkość wiatru',10,368,NAVY],['w środku obszaru',10,381,NAVY],['kierunek wiatru',10,409,NAVY],
  ['Wierzchołek chmur',6,429,'#a52a2a'],['Podstawa chmur*',6,445,BLACK],['o pokryciu',6,456,BLACK],
  ['> 7.9 okt.',11,468,BLACK],['> 6.5 okt.',11,479,'#555'],['> 4.5 okt.',11,490,'#999'],['> 2.5 okt.',11,501,'#ddd'],
  ['Widzialność',6,526,'#ff8c00'],['Chmury:',6,543,BLACK],['średnie',10,570,'#999'],['niskie',10,582,'#333'],['bardzo niskie',10,594,'#222'],
  ['Mgła',6,605,'#ffb000'],['Czas uniwersalny (UTC)',6,622,BLACK]
];
legendTexts.forEach(([s, x, y, c]) => stage.insertAdjacentHTML('beforeend', `<div class="t" style="left:${x}px;top:${y}px;color:${c}">${s}</div>`));
stage.insertAdjacentHTML('beforeend', '<div class="t" style="left:11px;top:511px;width:43px;height:12px;line-height:12px;background:#88d0ff;color:#fff">&gt; 0.1 okt.</div>');
stage.insertAdjacentHTML('beforeend', '<div class="t" style="left:10px;top:556px;width:41px;height:12px;line-height:12px;background:#88d0ff;color:#fff">wysokie</div>');
stage.insertAdjacentHTML('beforeend', '<div class="t" style="left:6px;top:647px;font-size:9px;font-weight:bold;color:#222">* powyżej poziomu morza</div>');

// --- Header and side texts ---
const centreTexts = [
  ['wschód słońca: 07:11 CET',358,129,NAVY,11.6],['zachód słońca: 16:23 CET',363,141,NAVY,11.6],
  ['21°40\'27"E, 54°10\'38"N',596,129,NAVY,12],['(x=260,  y=350)',596,141,NAVY,12],
  ['wysokość (min, środek, max)',818,129,NAVY,12],['75 - 128 - 153 m',818,141,NAVY,12],
  ['pią, 06.02',419,157,BLACK,12.5],['sob, 07.02',571,157,BLACK,12.5],['nie, 08.02',727,157,BLACK,12.5],
  ['CET',319,170,BLACK,12.5],['CET',872,170,BLACK,12.5]
];
centreTexts.forEach(([s, x, y, c, f]) => stage.insertAdjacentHTML('beforeend', `<div class="c" style="left:${x}px;top:${y}px;color:${c};font-size:${f}px">${s}</div>`));
const sideTexts = [
  ['temperatura',289,216],['(°C)',303,216],['opad',289,303],['(mm/h, kg/m²/h)',303,303],['ciśnienie',289,392],['(hPa)',303,392],
  ['wiatr',289,477],['(m/s)',303,477],['pion. rozciągł. chm.',289,600],['(km)',303,600],['zachmurzenie',289,696],
  ['(°C)',885,216],['temperatura',902,216],['(%)',885,305],['wilgotność wzgl.',902,305],['(mm Hg)',885,393],['ciśnienie',902,393],
  ['(km/h)',885,478],['wiatr',902,478],['(km)',885,595],['widzialność',902,595]
];
sideTexts.forEach(([s, x, y]) => stage.insertAdjacentHTML('beforeend', `<div class="r" style="left:${x}px;top:${y}px">${s}</div>`));
const compass = [['W',289,535,0],['N',300,527,-90],['S',297,546,-90],['E',305,537,-90],['W',888,535,0],['N',898,527,-90],['S',897,546,-90],['E',905,537,-90]];
compass.forEach(([s, x, y, r]) => stage.insertAdjacentHTML('beforeend', `<div class="c" style="left:${x}px;top:${y}px;color:${NAVY};font-size:13px;transform:translate(-50%,-50%) rotate(${r}deg)">${s}</div>`));

// --- Leader lines from the legend into the panels ---
const leaders = [
  ['#000',[67,16,133,16,155,44]],['#a52a2a',[102,43,119,43,157,103]],['#f00',[92,76,116,76]],['#f00',[130,76,137,77,155,105]],
  ['#00f',[70,99,136,99]],['#6a5acd',[94,120,125,120,136,113]],['#f00',[103,137,138,137,146,146]],
  [RH,[106,151,112,151]],[RH,[130,151,146,170]],['#000',[96,166,112,166]],['#000',[130,166,138,172]],
  ['#090',[72,179,140,179]],['#090',[80,190,150,190]],['#1a3ac0',[70,201,112,201]],['#1a3ac0',[130,201,160,172]],['#1a3ac0',[81,212,133,212,160,180]],
  ['#f00',[95,224,143,224,147,220]],['#000',[52,264,128,264,136,262]],['#f00',[110,334,118,334]],['#f00',[130,334,135,323,138,317]],
  ['#f00',[106,348,132,348,147,340]],[NAVY,[92,367,136,367]],[NAVY,[86,409,138,409]],['#a52a2a',[100,430,133,432,183,447]],
  ['#000',[57,468,132,468,191,455]],['#555',[56,480,136,480]],['#999',[56,490,130,490,140,505]],['#ddd',[56,501,130,501,137,505]],
  ['#88d0ff',[55,510,135,510]],['#88d0ff',[55,512,135,512]],[ '#ff8c00',[67,527,128,527,172,463]],
  ['#88d0ff',[53,556,186,556]],['#88d0ff',[53,558,186,558]],['#999',[50,571,190,571]],['#333',[40,582,121,582]],['#333',[130,582,136,582]],
  ['#222',[74,594,150,594]],['#ffb000',[31,605,218,605,219,600]],['#000',[139,624,147,624,157,609]]
];
document.getElementById('leaders').innerHTML = leaders.map(([c, p]) => `<polyline stroke="${c}" points="${p.join(' ')}"/>`).join('');
</script>
</body>
</html>
